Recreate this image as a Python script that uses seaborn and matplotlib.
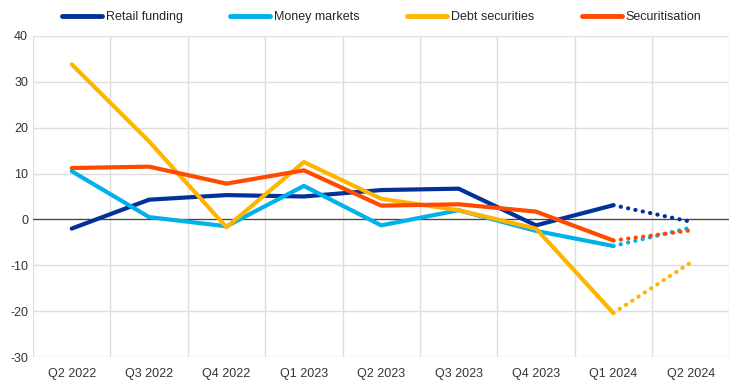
import numpy as np
import pandas as pd
import seaborn as sns
import matplotlib.pyplot as plt
from matplotlib.lines import Line2D

sns.set_style("white")
plt.rcParams['font.family'] = ['Liberation Sans', 'DejaVu Sans']
plt.rcParams['axes.unicode_minus'] = False

quarters = ["Q2 2022", "Q3 2022", "Q4 2022", "Q1 2023", "Q2 2023",
            "Q3 2023", "Q4 2023", "Q1 2024", "Q2 2024"]
retail = [-2.0, 4.3, 5.3, 5.0, 6.4, 6.7, -1.3, 3.1, -0.5]
money = [10.5, 0.5, -1.5, 7.3, -1.3, 2.0, -2.5, -5.8, -1.8]
debt = [33.8, 17.0, -1.7, 12.5, 4.5, 2.0, -2.0, -20.4, -9.4]
securitisation = [11.2, 11.5, 7.8, 10.7, 3.0, 3.3, 1.7, -4.6, -2.4]

series = {"Retail funding": retail, "Money markets": money,
          "Debt securities": debt, "Securitisation": securitisation}
colors = {"Retail funding": "#003299", "Money markets": "#00b1ea",
          "Debt securities": "#ffb400", "Securitisation": "#ff4b00"}

x = np.arange(len(quarters))

fig = plt.figure(figsize=(7.44, 3.86), dpi=100)
ax = fig.add_axes([0.0444, 0.075, 0.936, 0.832])

# grid first
ax.set_xticks(np.arange(-0.5, len(quarters), 1), minor=True)
ax.grid(True, which="minor", axis="x", color="#dedede", lw=1)
ax.grid(True, which="major", axis="y", color="#dedede", lw=1)
ax.axhline(0, color="#444444", lw=0.9, zorder=2)

for name, vals in series.items():
    c = colors[name]
    sns.lineplot(x=x[:8], y=vals[:8], ax=ax, color=c, lw=3,
                 solid_capstyle="round", solid_joinstyle="round", zorder=3)
    # last quarter drawn dotted
    sns.lineplot(x=x[7:], y=vals[7:], ax=ax, color=c, lw=3,
                 linestyle=(0, (0.05, 1.75)), dash_capstyle="round", zorder=3)

ax.set_xlim(-0.5, 8.5)
ax.set_ylim(-30, 40)
ax.set_yticks(range(-30, 41, 10))
ax.set_xticks(x)
ax.set_xticklabels(quarters)
ax.tick_params(axis="both", which="both", length=0, labelsize=9, colors="#333333")
ax.tick_params(axis="x", pad=8)
for s in ax.spines.values():
    s.set_visible(False)

handles = [Line2D([0], [0], color=colors[n], lw=3.5, solid_capstyle="round") for n in series]
fig.legend(handles, list(series.keys()), loc="center", bbox_to_anchor=(0.513, 0.955),
           ncol=4, frameon=False, fontsize=9, handlelength=3.2, columnspacing=3.8,
           handletextpad=0.3)

fig.savefig("out.png", dpi=100)
